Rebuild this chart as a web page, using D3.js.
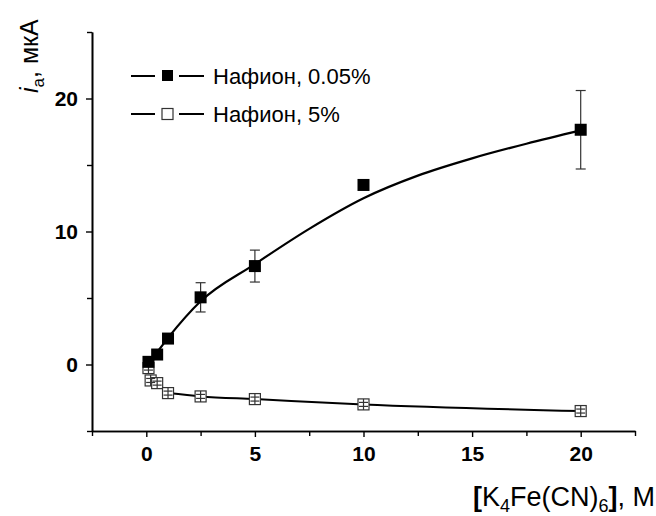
<!DOCTYPE html>
<html>
<head>
<meta charset="utf-8">
<script src="https://cdn.jsdelivr.net/npm/d3@7/dist/d3.min.js"></script>
<style>
body{margin:0;background:#fff;}
svg{display:block;font-family:"Liberation Sans",Arial,sans-serif;}
</style>
</head>
<body>
<div id="chart"></div>
<script>
// данные
var concFilled = [0.1, 0.5, 1, 2.5, 5, 10, 20];
var currentFilled = [0.2, 0.75, 1.95, 5.05, 7.4, 13.5, 17.65];
var errFilled = [0, 0, 0, 1.1, 1.2, 0, 2.95];
var concOpen = [0.1, 0.2, 0.5, 1, 2.5, 5, 10, 20];
var currentOpen = [-0.27, -1.2, -1.4, -2.15, -2.4, -2.6, -3.0, -3.5];
var errOpen = [0.15, 0.15, 0.15, 0.15, 0.15, 0.15, 0.15, 0.15];
// аппроксимирующая кривая (точки)
var fitX = [0.1, 0.5, 1, 2.5, 5, 7.5, 10, 12.5, 15, 17.5, 20];
var fitY = [0.25, 0.95, 2.0, 4.75, 7.55, 10.2, 12.5, 14.2, 15.5, 16.6, 17.6];
var xTicks = [0, 5, 10, 15, 20];
var xMinor = [-2.5, 2.5, 7.5, 12.5, 17.5, 22.5];
var yTicks = [0, 10, 20];
var yMinor = [-5, 5, 15, 25];
var legendLabels = ['Нафион, 0.05%', 'Нафион, 5%'];

var W = 656, H = 516;
var svg = d3.select('#chart').append('svg').attr('width', W).attr('height', H);

var x = d3.scaleLinear().domain([-2.5, 22.5]).range([92, 635]);
var y = d3.scaleLinear().domain([-5, 25]).range([431, 32]);

// оси
svg.append('g').attr('transform', 'translate(0,' + y(-5) + ')')
	.call(d3.axisBottom(x).tickValues(xTicks).tickSize(6).tickSizeOuter(0).tickPadding(9));
svg.append('g').attr('transform', 'translate(0,' + y(-5) + ')')
	.call(d3.axisBottom(x).tickValues(xMinor).tickSize(5).tickFormat('').tickSizeOuter(0));
svg.append('g').attr('transform', 'translate(' + x(-2.5) + ',0)')
	.call(d3.axisLeft(y).tickValues(yTicks).tickSize(6).tickSizeOuter(0).tickPadding(8));
svg.append('g').attr('transform', 'translate(' + x(-2.5) + ',0)')
	.call(d3.axisLeft(y).tickValues(yMinor).tickSize(5).tickFormat('').tickSizeOuter(0));

svg.selectAll('.domain').attr('stroke', '#000').attr('stroke-width', 1.6);
svg.selectAll('.tick line').attr('stroke', '#000').attr('stroke-width', 1.4);
svg.selectAll('.tick text')
	.attr('fill', '#000')
	.style('font-family', '"Liberation Sans",Arial,sans-serif')
	.style('font-size', '21px')
	.style('font-weight', 'bold');

// подписи осей
var yLab = svg.append('text')
	.attr('transform', 'translate(38,93) rotate(-90)')
	.style('font-size', '25px');
yLab.append('tspan').text('i').style('font-style', 'italic');
yLab.append('tspan').text('a').attr('dy', 6).style('font-size', '17px');
yLab.append('tspan').text(', мкА').attr('dy', -6);

var xLab = svg.append('text')
	.attr('x', 655).attr('y', 506)
	.attr('text-anchor', 'end')
	.style('font-size', '27px');
xLab.append('tspan').text('[').style('font-weight', 'bold');
xLab.append('tspan').text('K');
xLab.append('tspan').text('4').attr('dy', 6).style('font-size', '18px');
xLab.append('tspan').text('Fe(CN)').attr('dy', -6);
xLab.append('tspan').text('6').attr('dy', 6).style('font-size', '18px');
xLab.append('tspan').text(']').attr('dy', -6).style('font-weight', 'bold');
xLab.append('tspan').text(', M');

// кривые
var fitData = fitX.map(function(v, i){ return [v, fitY[i]]; });
var openData = concOpen.map(function(v, i){ return [v, currentOpen[i], errOpen[i]]; });
var filledData = concFilled.map(function(v, i){ return [v, currentFilled[i], errFilled[i]]; });

var line = d3.line()
	.x(function(d){ return x(d[0]); })
	.y(function(d){ return y(d[1]); })
	.curve(d3.curveMonotoneX);

svg.append('path').datum(openData.slice(3))
	.attr('d', line).attr('fill', 'none').attr('stroke', '#000').attr('stroke-width', 2);
svg.append('path').datum(fitData)
	.attr('d', line).attr('fill', 'none').attr('stroke', '#000').attr('stroke-width', 2.2);

// планки погрешностей
function errBars(data, color, cap, full){
	var g = svg.append('g').attr('stroke', color).attr('stroke-width', 1.2);
	data.filter(function(d){ return d[2] > 0; }).forEach(function(d){
		var cx = x(d[0]);
		var y1 = full ? y(d[1]) - full : y(d[1] + d[2]);
		var y2 = full ? y(d[1]) + full : y(d[1] - d[2]);
		g.append('line').attr('x1', cx).attr('x2', cx).attr('y1', y1).attr('y2', y2);
		g.append('line').attr('x1', cx - cap).attr('x2', cx + cap).attr('y1', y(d[1] - d[2])).attr('y2', y(d[1] - d[2]));
		g.append('line').attr('x1', cx - cap).attr('x2', cx + cap).attr('y1', y(d[1] + d[2])).attr('y2', y(d[1] + d[2]));
	});
}

errBars(filledData, '#333', 5, 0);

// маркеры: открытые квадраты
var s = 11;
svg.append('g').selectAll('rect').data(openData).enter().append('rect')
	.attr('x', function(d){ return x(d[0]) - s / 2; })
	.attr('y', function(d){ return y(d[1]) - s / 2; })
	.attr('width', s).attr('height', s)
	.attr('fill', '#fff').attr('stroke', '#333').attr('stroke-width', 1.2);
errBars(openData, '#333', 4.5, s / 2);

// маркеры: заполненные квадраты
var sf = 12;
svg.append('g').selectAll('rect').data(filledData).enter().append('rect')
	.attr('x', function(d){ return x(d[0]) - sf / 2; })
	.attr('y', function(d){ return y(d[1]) - sf / 2; })
	.attr('width', sf).attr('height', sf)
	.attr('fill', '#000');

// легенда
var legend = svg.append('g');
legendLabels.forEach(function(label, i){
	var ly = 76 + i * 38;
	var lg = legend.append('g').attr('transform', 'translate(0,' + ly + ')');
	lg.append('line').attr('x1', 131).attr('x2', 155).attr('stroke', '#000').attr('stroke-width', 2);
	lg.append('line').attr('x1', 179).attr('x2', 204).attr('stroke', '#000').attr('stroke-width', 2);
	if(i === 0){
		lg.append('rect').attr('x', 162).attr('y', -6).attr('width', 11).attr('height', 11).attr('fill', '#000');
	} else {
		lg.append('rect').attr('x', 162).attr('y', -5.5).attr('width', 11).attr('height', 11)
			.attr('fill', '#fff').attr('stroke', '#333').attr('stroke-width', 1.2);
	}
	lg.append('text').attr('x', 213).attr('y', 8).text(label).style('font-size', '22px');
});
</script>
</body>
</html>
